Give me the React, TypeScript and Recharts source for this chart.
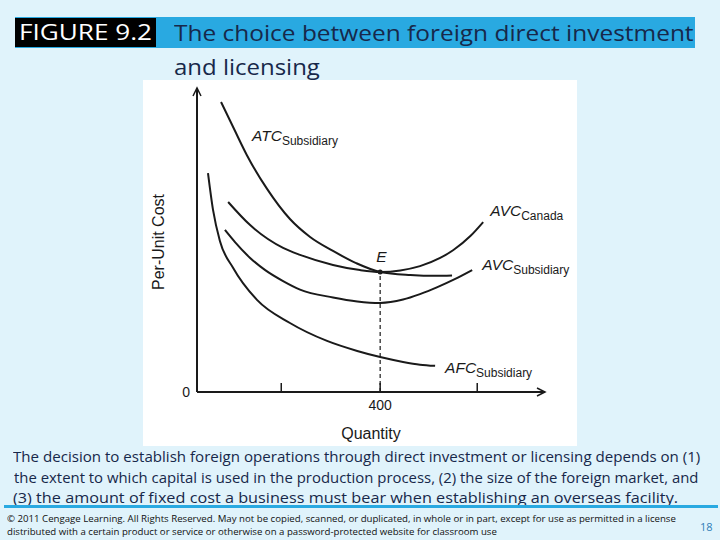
import React, {useLayoutEffect, useRef, useState} from 'react';
import {LineChart, Line, XAxis, YAxis, ReferenceLine, ReferenceDot} from 'recharts';

// quantity (x) and per-unit cost (y)
const atcQty = [52.5, 81, 109, 153, 203, 247, 297, 347.5, 400, 466, 520, 557];
const atcCost = [95.4, 86.5, 77.9, 66.8, 56.9, 51, 46.4, 42.4, 39.5, 38.5, 38.2, 38.3];

const canadaQty = [68, 116, 188, 225, 297, 356, 400, 444, 487, 531, 560, 597, 625];
const canadaCost = [62.5, 54.9, 47.4, 45.1, 41.8, 40.1, 39.5, 40, 41.4, 44.1, 46.7, 51.3, 55.9];

const avcSubQty = [61, 83, 116, 149, 188, 225, 297, 350, 400, 450, 487, 525, 564, 601];
const avcSubCost = [53.3, 49.3, 44.1, 40.1, 36.5, 33.7, 31.1, 29.8, 29.3, 30.4, 32.2, 34.5, 37.2, 40.1];

const afcQty = [24, 35, 50, 79, 131, 203, 284, 350, 400, 450, 487, 520];
const afcCost = [72, 59.9, 49.7, 40.8, 30.3, 22.7, 16.8, 13.5, 11.5, 9.9, 9, 8.6];

const xTicks = [184, 400, 612];
const labelledTick = 400;
const pointE = {q: 400, cost: 39.5};

const toPoints = (qty: number[], cost: number[]) => qty.map((q, i) => ({q, cost: cost[i]}));

const chartFont = '"Liberation Sans", Arial, sans-serif';
const ink = '#1a1a1a';

const curveLabel = (at: number, main: string, sub: string, dx: number, dy: number) => (props: any) => {
    if (props.index !== at) return null;
    return (
        <text key={main + sub} x={props.x + dx} y={props.y + dy} fill={ink} style={{fontFamily: chartFont}}>
            <tspan fontSize={15.5} fontStyle="italic">{main}</tspan>
            <tspan fontSize={12} dy={4}>{sub}</tspan>
        </text>
    );
};

const QtyTick = (props: any) => {
    const {x, y, payload} = props;
    return (
        <g>
            <line x1={x} y1={y} x2={x} y2={y - 9} stroke={ink} strokeWidth={1.5}/>
            {payload.value === labelledTick && (
                <text x={x} y={y + 18} textAnchor="middle" fontSize={14} fill={ink} style={{fontFamily: chartFont}}>{payload.value}</text>
            )}
        </g>
    );
};

const UpArrow = (props: any) => (
    <path d={`M${props.cx - 4},${props.cy + 8} L${props.cx},${props.cy} L${props.cx + 4},${props.cy + 8}`}
          fill="none" stroke={ink} strokeWidth={1.5}/>
);

const RightArrow = (props: any) => (
    <path d={`M${props.cx - 8},${props.cy - 4} L${props.cx},${props.cy} L${props.cx - 8},${props.cy + 4}`}
          fill="none" stroke={ink} strokeWidth={1.5}/>
);

const PointE = (props: any) => (
    <g>
        <circle cx={props.cx} cy={props.cy} r={2.5} fill={ink}/>
        <text x={props.cx - 4} y={props.cy - 10} fontSize={15.5} fontStyle="italic" fill={ink} style={{fontFamily: chartFont}}>E</text>
    </g>
);

const curves = [
    {key: 'atc', data: toPoints(atcQty, atcCost), label: curveLabel(0, 'ATC', 'Subsidiary', 31, 39)},
    {key: 'canada', data: toPoints(canadaQty, canadaCost), label: curveLabel(canadaQty.length - 1, 'AVC', 'Canada', 7, -6)},
    {key: 'avcSub', data: toPoints(avcSubQty, avcSubCost), label: curveLabel(avcSubQty.length - 1, 'AVC', 'Subsidiary', 10, 0)},
    {key: 'afc', data: toPoints(afcQty, afcCost), label: curveLabel(afcQty.length - 1, 'AFC', 'Subsidiary', 10, 7)},
];

const textFont = '"Open Sans", "Noto Sans", sans-serif';
const navy = '#17284a';

// slide text is stretched wider than Open Sans; squeeze each line to the width it has in the slide
const FitText: React.FunctionComponent<{ left: number, top: number, width: number, style: React.CSSProperties, children: React.ReactNode }> = ({left, top, width, style, children}) => {
    const ref = useRef<HTMLDivElement>(null);
    const [sx, setSx] = useState(1);
    useLayoutEffect(() => {
        const w = ref.current ? ref.current.offsetWidth : 0;
        if (w > 0) setSx(width / w);
    }, [width]);
    return (
        <div ref={ref} style={{...style, position: 'absolute', left, top, whiteSpace: 'nowrap', transformOrigin: '0 0', transform: `scaleX(${sx})`}}>
            {children}
        </div>
    );
};

const titleStyle: React.CSSProperties = {fontSize: 22, lineHeight: '31px', color: navy};
const bodyStyle: React.CSSProperties = {fontSize: 14.5, lineHeight: '20px', color: navy};
const footStyle: React.CSSProperties = {fontSize: 9, lineHeight: '13px', color: '#111'};

const App: React.FunctionComponent = () => {
    return (
        <div style={{position: 'fixed', left: 0, top: 0, width: 720, height: 540, background: '#e0f3fb', overflow: 'hidden', fontFamily: textFont}}>
            <div style={{position: 'absolute', left: 15, top: 17, width: 680, height: 31, background: '#29a9e1'}}/>
            <div style={{position: 'absolute', left: 15, top: 18, width: 141, height: 29, background: '#000'}}/>
            <FitText left={19} top={16} width={133} style={{...titleStyle, color: '#fff'}}>FIGURE 9.2</FitText>
            <FitText left={174} top={17} width={520} style={titleStyle}>The choice between foreign direct investment</FitText>
            <FitText left={174} top={51} width={146} style={titleStyle}>and licensing</FitText>

            <div style={{position: 'absolute', left: 143, top: 80, width: 434, height: 366, background: '#fff'}}>
                <LineChart width={434} height={366} margin={{top: 8, right: 32, left: 34, bottom: 24}}>
                    <XAxis type="number" dataKey="q" domain={[0, 760]} ticks={xTicks} tick={<QtyTick/>}
                           tickSize={0} tickMargin={0} tickLine={false} height={30} allowDataOverflow
                           axisLine={{stroke: ink, strokeWidth: 2}}
                           label={{value: 'Quantity', position: 'bottom', offset: 6, fontSize: 16, fill: ink, style: {fontFamily: chartFont}}}/>
                    <YAxis type="number" dataKey="cost" domain={[0, 100]} ticks={[0]} width={20}
                           tickSize={0} tickMargin={7} tickLine={false}
                           tick={{fontSize: 14, fill: ink, style: {fontFamily: chartFont}}}
                           axisLine={{stroke: ink, strokeWidth: 2}}/>
                    <ReferenceLine segment={[{x: pointE.q, y: 0}, {x: pointE.q, y: pointE.cost}]}
                                   stroke={ink} strokeWidth={1.2} strokeDasharray="4 3"/>
                    {curves.map(c => (
                        <Line key={c.key} data={c.data} dataKey="cost" type="monotone" stroke={ink} strokeWidth={2}
                              dot={false} activeDot={false} isAnimationActive={false} label={c.label}/>
                    ))}
                    <ReferenceDot x={pointE.q} y={pointE.cost} shape={<PointE/>}/>
                    <ReferenceDot x={0} y={100} shape={<UpArrow/>}/>
                    <ReferenceDot x={760} y={0} shape={<RightArrow/>}/>
                </LineChart>
                <div style={{position: 'absolute', left: 16, top: 162, transform: 'translate(-50%, -50%) rotate(-90deg)',
                    fontFamily: chartFont, fontSize: 16, lineHeight: '18px', color: ink, whiteSpace: 'nowrap'}}>Per-Unit Cost</div>
            </div>

            <FitText left={13} top={447} width={687} style={bodyStyle}>The decision to establish foreign operations through direct investment or licensing depends on (1)</FitText>
            <FitText left={14} top={468} width={684} style={bodyStyle}>the extent to which capital is used in the production process, (2) the size of the foreign market, and</FitText>
            <FitText left={13} top={488} width={665} style={bodyStyle}>(3) the amount of fixed cost a business must bear when establishing an overseas facility.</FitText>

            <div style={{position: 'absolute', left: 4, top: 505, width: 714, height: 3, background: '#29a9e1'}}/>
            <FitText left={7} top={512} width={669} style={footStyle}>© 2011 Cengage Learning. All Rights Reserved. May not be copied, scanned, or duplicated, in whole or in part, except for use as permitted in a license</FitText>
            <FitText left={7} top={525} width={490} style={footStyle}>distributed with a certain product or service or otherwise on a password-protected website for classroom use</FitText>
            <div style={{position: 'absolute', left: 700, top: 520, fontSize: 11, lineHeight: '14px', color: '#2f7db8'}}>18</div>
        </div>
    );
};

export default App;
